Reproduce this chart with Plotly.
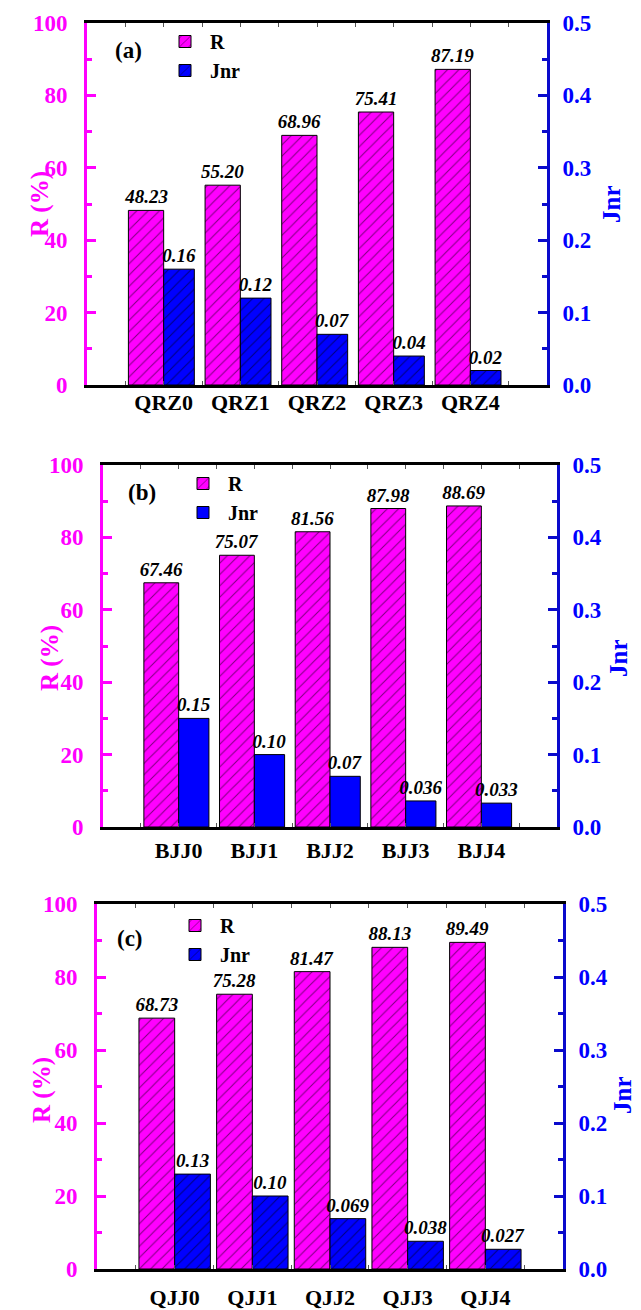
import plotly.graph_objects as go

# ---------------- data ----------------
cats_a = ["QRZ0", "QRZ1", "QRZ2", "QRZ3", "QRZ4"]
R_a = [48.23, 55.20, 68.96, 75.41, 87.19]
J_a = [0.16, 0.12, 0.07, 0.04, 0.02]
J_a_labels = ["0.16", "0.12", "0.07", "0.04", "0.02"]

cats_b = ["BJJ0", "BJJ1", "BJJ2", "BJJ3", "BJJ4"]
R_b = [67.46, 75.07, 81.56, 87.98, 88.69]
J_b = [0.15, 0.10, 0.07, 0.036, 0.033]
J_b_labels = ["0.15", "0.10", "0.07", "0.036", "0.033"]

cats_c = ["QJJ0", "QJJ1", "QJJ2", "QJJ3", "QJJ4"]
R_c = [68.73, 75.28, 81.47, 88.13, 89.49]
J_c = [0.13, 0.10, 0.069, 0.038, 0.027]
J_c_labels = ["0.13", "0.10", "0.069", "0.038", "0.027"]

panel_tags = ["(a)", "(b)", "(c)"]

# ---------------- style ----------------
W, H = 641, 1310
FONT = "Liberation Serif"
MAG = "#FF00FF"
BLUE = "#0000FF"
BLUE_LINE = "#0A0ACC"

def fx(px):
    return px / W

def fy(py):
    return 1 - py / H

panels = [
    dict(cats=cats_a, R=R_a, J=J_a, JL=J_a_labels, xd=(87, 547), yd=(23, 385),
         jw=0.40, jhatch=True, xstand=-4, leg=(160, 22), tag=(128, 51),
         ytl=(40, 204), jtl=(612, 204)),
    dict(cats=cats_b, R=R_b, J=J_b, JL=J_b_labels, xd=(103, 557), yd=(465, 827),
         jw=0.40, jhatch=False, xstand=2, leg=(178, 464), tag=(142, 493),
         ytl=(50, 658), jtl=(618, 658)),
    dict(cats=cats_c, R=R_c, J=J_c, JL=J_c_labels, xd=(97, 563), yd=(904, 1269),
         jw=0.46, jhatch=True, xstand=7, leg=(170, 906), tag=(130, 938),
         ytl=(42, 1090), jtl=(622, 1095)),
]

fig = go.Figure()
layout = dict(
    width=W, height=H,
    margin=dict(l=0, r=0, t=0, b=0, pad=0, autoexpand=False),
    plot_bgcolor="white", paper_bgcolor="white",
    font=dict(family=FONT, size=20, color="black"),
    barmode="overlay",
    annotations=[],
)

for i, p in enumerate(panels):
    n = i + 1
    xname = "x" if n == 1 else f"x{n}"
    yR = f"y{2 * n - 1}" if n > 1 else "y"
    yJ = f"y{2 * n}"
    leg = "legend" if n == 1 else f"legend{n}"
    idx = list(range(len(p["cats"])))

    R_labels = [f"{v:.2f}" for v in p["R"]]

    fig.add_trace(go.Bar(
        x=idx, y=p["R"], name="R", xaxis=xname, yaxis=yR, legend=leg,
        offset=-0.46, width=0.46,
        marker=dict(color=MAG, line=dict(color="black", width=1),
                    pattern=dict(shape="/", fgcolor="black", bgcolor=MAG,
                                 size=8, solidity=0.13)),
        text=R_labels, textposition="outside", constraintext="none",
        textfont=dict(family=FONT, size=19, color="black", weight="bold", style="italic"),
        cliponaxis=False,
    ))
    jmarker = dict(color=BLUE, line=dict(color="black", width=1))
    if p["jhatch"]:
        jmarker["pattern"] = dict(shape="/", fgcolor="black", bgcolor=BLUE,
                                  size=8, solidity=0.13)
    fig.add_trace(go.Bar(
        x=idx, y=p["J"], name="Jnr", xaxis=xname, yaxis=yJ, legend=leg,
        offset=0, width=p["jw"],
        marker=jmarker,
        text=p["JL"], textposition="outside", constraintext="none",
        textfont=dict(family=FONT, size=19, color="black", weight="bold", style="italic"),
        cliponaxis=False,
    ))

    xdom = [fx(p["xd"][0]), fx(p["xd"][1])]
    ydom = [fy(p["yd"][1]), fy(p["yd"][0])]
    xkey = "xaxis" if n == 1 else f"xaxis{n}"
    yRkey = "yaxis" if n == 1 else f"yaxis{2 * n - 1}"
    yJkey = f"yaxis{2 * n}"

    layout[xkey] = dict(
        domain=xdom, anchor=yR, range=[-1, 5], type="linear", automargin=False,
        tickmode="array", tickvals=idx, ticktext=p["cats"],
        ticks="inside", ticklen=4, tickwidth=1, tickcolor="#555",
        minor=dict(dtick=0.5, tick0=0, ticks="inside", ticklen=4, tickwidth=1, tickcolor="#555"),
        showline=True, linecolor="black", linewidth=3, mirror="ticks",
        showgrid=False, zeroline=False,
        tickfont=dict(family=FONT, size=22, color="black", weight="bold"),
        ticklabelstandoff=p["xstand"],
    )
    layout[yRkey] = dict(
        domain=ydom, anchor=xname, range=[0, 100], dtick=20, tick0=0, automargin=False,
        ticks="inside", ticklen=9, tickwidth=2.5, tickcolor=MAG,
        minor=dict(dtick=10, ticks="inside", ticklen=5, tickwidth=2.5, tickcolor=MAG),
        showline=True, linecolor=MAG, linewidth=3,
        showgrid=False, zeroline=False,
        tickfont=dict(family=FONT, size=23, color=MAG, weight="bold"),
        ticklabelstandoff=12,
    )
    layout[yJkey] = dict(
        domain=ydom, anchor=xname, overlaying=yR, side="right", automargin=False,
        range=[0, 0.5], dtick=0.1, tick0=0, tickformat=".1f",
        ticks="inside", ticklen=9, tickwidth=2.5, tickcolor=BLUE_LINE,
        minor=dict(dtick=0.05, ticks="inside", ticklen=5, tickwidth=2.5, tickcolor=BLUE_LINE),
        showline=True, linecolor=BLUE_LINE, linewidth=3,
        showgrid=False, zeroline=False,
        tickfont=dict(family=FONT, size=23, color=BLUE, weight="bold"),
        ticklabelstandoff=8,
    )
    layout[leg] = dict(
        x=fx(p["leg"][0]), y=fy(p["leg"][1]), xanchor="left", yanchor="top",
        bgcolor="rgba(0,0,0,0)", borderwidth=0,
        font=dict(family=FONT, size=20, color="black", weight="bold"),
        tracegroupgap=0, itemwidth=40,
    )
    layout["annotations"] += [
        dict(text=panel_tags[i], x=fx(p["tag"][0]), y=fy(p["tag"][1]),
             xref="paper", yref="paper", showarrow=False,
             xanchor="center", yanchor="middle",
             font=dict(family=FONT, size=23, color="black", weight="bold")),
        dict(text="R (%)", x=fx(p["ytl"][0]), y=fy(p["ytl"][1]),
             xref="paper", yref="paper", showarrow=False, textangle=-90,
             xanchor="center", yanchor="middle",
             font=dict(family=FONT, size=25, color=MAG, weight="bold")),
        dict(text="Jnr", x=fx(p["jtl"][0]), y=fy(p["jtl"][1]),
             xref="paper", yref="paper", showarrow=False, textangle=-90,
             xanchor="center", yanchor="middle",
             font=dict(family=FONT, size=25, color=BLUE, weight="bold")),
    ]

fig.update_layout(**layout)
fig.write_html(
    "out.html",
    config={"displayModeBar": False},
    post_script="document.body.style.margin='0px';document.body.style.padding='0px';",
)
